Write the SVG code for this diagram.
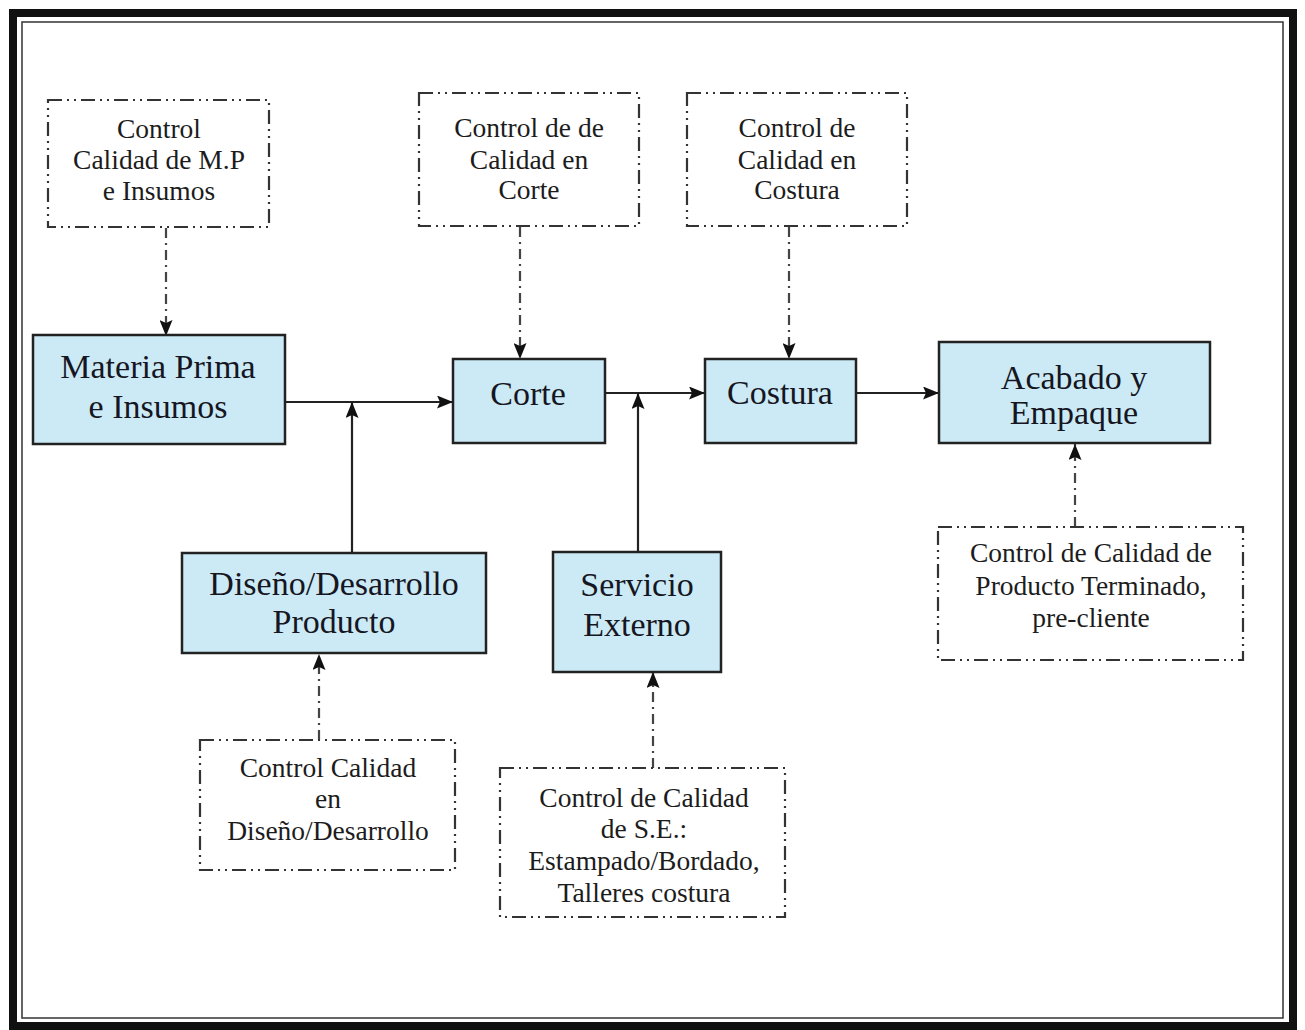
<svg xmlns="http://www.w3.org/2000/svg" width="1305" height="1030" viewBox="0 0 1305 1030">
  <defs>
    <marker id="arrow" viewBox="0 0 16 13" refX="16" refY="6.5" markerWidth="16" markerHeight="13" markerUnits="userSpaceOnUse" orient="auto">
      <path d="M0,0 L16,6.5 L0,13 L3,6.5 Z" fill="#111"/>
    </marker>
  </defs>
  <style>
    .frame-outer { fill: none; stroke: #111; stroke-width: 8; }
    .frame-inner { fill: none; stroke: #333; stroke-width: 1.5; }
    .process rect { fill: #cbeaf6; stroke: #222; stroke-width: 2.5; }
    .process text { font-family: "Liberation Serif", "Times New Roman", serif; font-size: 34px; fill: #161622; text-anchor: middle; }
    .control rect { fill: #fff; stroke: #333; stroke-width: 2.2; stroke-dasharray: 14 5 2 5 2 5; }
    .control text { font-family: "Liberation Serif", "Times New Roman", serif; font-size: 27.5px; fill: #1c1c1c; text-anchor: middle; }
    .flow { stroke: #222; stroke-width: 2.2; fill: none; }
    .check { stroke: #444; stroke-width: 2.2; fill: none; stroke-dasharray: 10 5 2 5; }
  </style>

  <!-- page frame -->
  <rect class="frame-outer" x="13" y="13" width="1280" height="1013"/>
  <rect class="frame-inner" x="22" y="22" width="1261" height="996"/>

  <!-- connectors -->
  <g id="connectors">
    <line class="check" x1="166" y1="228" x2="166" y2="336" marker-end="url(#arrow)"/>
    <line class="check" x1="520" y1="227" x2="520" y2="359" marker-end="url(#arrow)"/>
    <line class="check" x1="789" y1="227" x2="789" y2="359" marker-end="url(#arrow)"/>
    <line class="check" x1="319" y1="740" x2="319" y2="654" marker-end="url(#arrow)"/>
    <line class="check" x1="653" y1="768" x2="653" y2="672" marker-end="url(#arrow)"/>
    <line class="check" x1="1075" y1="527" x2="1075" y2="444" marker-end="url(#arrow)"/>
    <line class="flow" x1="285" y1="402" x2="453" y2="402" marker-end="url(#arrow)"/>
    <line class="flow" x1="352" y1="553" x2="352" y2="402" marker-end="url(#arrow)"/>
    <line class="flow" x1="605" y1="393" x2="705" y2="393" marker-end="url(#arrow)"/>
    <line class="flow" x1="638" y1="552" x2="638" y2="393" marker-end="url(#arrow)"/>
    <line class="flow" x1="856" y1="393" x2="939" y2="393" marker-end="url(#arrow)"/>
  </g>

  <!-- process steps -->
  <g id="materia-prima" class="process">
    <rect x="33" y="335" width="252" height="109"/>
    <text x="158" y="378">Materia Prima</text>
    <text x="158" y="418">e Insumos</text>
  </g>
  <g id="corte" class="process">
    <rect x="453" y="359" width="152" height="84"/>
    <text x="528" y="405">Corte</text>
  </g>
  <g id="costura" class="process">
    <rect x="705" y="359" width="151" height="84"/>
    <text x="780" y="404">Costura</text>
  </g>
  <g id="acabado" class="process">
    <rect x="939" y="342" width="271" height="101"/>
    <text x="1074" y="389">Acabado y</text>
    <text x="1074" y="424">Empaque</text>
  </g>
  <g id="diseno" class="process">
    <rect x="182" y="553" width="304" height="100"/>
    <text x="334" y="595">Diseño/Desarrollo</text>
    <text x="334" y="633">Producto</text>
  </g>
  <g id="servicio-externo" class="process">
    <rect x="553" y="552" width="168" height="120"/>
    <text x="637" y="596">Servicio</text>
    <text x="637" y="636">Externo</text>
  </g>

  <!-- quality checks -->
  <g id="control-mp" class="control">
    <rect x="48" y="100" width="221" height="127"/>
    <text x="159" y="138">Control</text>
    <text x="159" y="169">Calidad de M.P</text>
    <text x="159" y="200">e Insumos</text>
  </g>
  <g id="control-corte" class="control">
    <rect x="419" y="93" width="220" height="133"/>
    <text x="529" y="137">Control de de</text>
    <text x="529" y="169">Calidad en</text>
    <text x="529" y="199">Corte</text>
  </g>
  <g id="control-costura" class="control">
    <rect x="687" y="93" width="220" height="133"/>
    <text x="797" y="137">Control de</text>
    <text x="797" y="169">Calidad en</text>
    <text x="797" y="199">Costura</text>
  </g>
  <g id="control-diseno" class="control">
    <rect x="200" y="740" width="255" height="130"/>
    <text x="328" y="777">Control Calidad</text>
    <text x="328" y="808">en</text>
    <text x="328" y="840">Diseño/Desarrollo</text>
  </g>
  <g id="control-servicio" class="control">
    <rect x="500" y="768" width="285" height="149"/>
    <text x="644" y="807">Control de Calidad</text>
    <text x="644" y="838">de S.E.:</text>
    <text x="644" y="870">Estampado/Bordado,</text>
    <text x="644" y="902">Talleres costura</text>
  </g>
  <g id="control-terminado" class="control">
    <rect x="938" y="527" width="305" height="133"/>
    <text x="1091" y="562">Control de Calidad de</text>
    <text x="1091" y="595">Producto Terminado,</text>
    <text x="1091" y="627">pre-cliente</text>
  </g>
</svg>
